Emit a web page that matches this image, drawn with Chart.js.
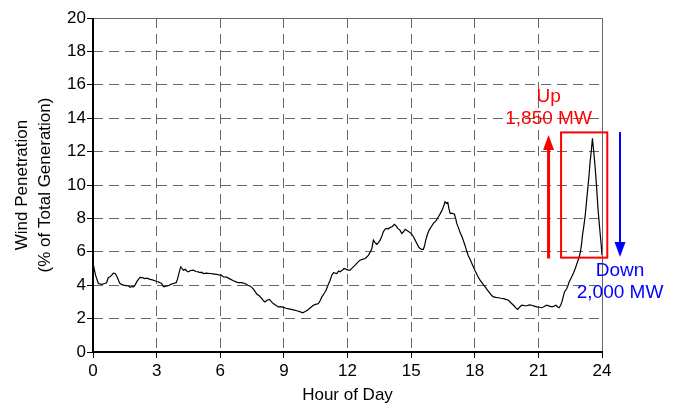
<!DOCTYPE html>
<html>
<head>
<meta charset="utf-8">
<script src="https://cdn.jsdelivr.net/npm/chart.js@4/dist/chart.umd.min.js"></script>
<style>
  html, body { margin: 0; padding: 0; background: #fff; }
  #wrap { width: 677px; height: 407px; }
</style>
</head>
<body>
<div id="wrap"><canvas id="chart-wind" width="677" height="407"></canvas></div>
<script>
// hour of day and wind share of total generation (%)
const hours = [
  0.00, 0.05, 0.12, 0.25, 0.41, 0.55, 0.64, 0.72, 0.80, 0.88, 0.96, 1.04, 1.12, 1.20, 1.27, 1.35,
  1.43, 1.55, 1.67, 1.75, 1.83, 1.92, 1.98, 2.06, 2.14, 2.22, 2.32, 2.45, 2.55, 2.69, 2.80, 2.92,
  3.00, 3.08, 3.16, 3.24, 3.30, 3.35, 3.45, 3.55, 3.67, 3.79, 3.92, 3.98, 4.03, 4.09, 4.14, 4.20,
  4.26, 4.35, 4.42, 4.50, 4.60, 4.73, 4.85, 4.97, 5.05, 5.12, 5.20, 5.35, 5.52, 5.65, 5.83, 5.95,
  6.05, 6.15, 6.30, 6.45, 6.62, 6.75, 6.85, 7.00, 7.17, 7.30, 7.40, 7.49, 7.60, 7.72, 7.85, 7.96,
  8.05, 8.11, 8.20, 8.32, 8.42, 8.50, 8.62, 8.74, 8.85, 8.98, 9.10, 9.29, 9.45, 9.61, 9.75, 9.89,
  10.00, 10.11, 10.25, 10.39, 10.50, 10.63, 10.72, 10.79, 10.90, 10.99, 11.08, 11.18, 11.26, 11.34, 11.42, 11.50,
  11.58, 11.65, 11.75, 11.84, 11.95, 12.04, 12.12, 12.24, 12.36, 12.47, 12.59, 12.70, 12.83, 12.92, 12.99, 13.08,
  13.15, 13.22, 13.30, 13.38, 13.46, 13.54, 13.62, 13.69, 13.77, 13.85, 13.93, 14.00, 14.10, 14.21, 14.29, 14.37,
  14.47, 14.56, 14.64, 14.72, 14.84, 14.95, 15.03, 15.11, 15.19, 15.27, 15.35, 15.42, 15.50, 15.58, 15.64, 15.69,
  15.77, 15.85, 15.95, 16.05, 16.17, 16.29, 16.38, 16.48, 16.55, 16.60, 16.67, 16.73, 16.78, 16.84, 16.95, 17.04,
  17.10, 17.15, 17.23, 17.31, 17.40, 17.47, 17.55, 17.63, 17.70, 17.78, 17.90, 18.02, 18.12, 18.25, 18.37, 18.49,
  18.60, 18.73, 18.80, 18.88, 19.00, 19.12, 19.24, 19.35, 19.47, 19.59, 19.70, 19.83, 19.93, 20.03, 20.12, 20.22,
  20.34, 20.46, 20.57, 20.69, 20.80, 20.93, 21.05, 21.16, 21.28, 21.40, 21.52, 21.64, 21.74, 21.83, 21.92, 21.98,
  22.05, 22.11, 22.17, 22.23, 22.34, 22.40, 22.45, 22.55, 22.66, 22.74, 22.82, 22.90, 22.97, 23.03, 23.08, 23.15,
  23.21, 23.27, 23.33, 23.39, 23.44, 23.50, 23.55, 23.61, 23.68, 23.75, 23.81, 23.87, 23.92, 23.97, 24.00
];
const penetration = [
  5.40, 5.00, 4.60, 4.10, 4.05, 4.10, 4.15, 4.45, 4.50, 4.60, 4.72, 4.70, 4.55, 4.30, 4.10, 4.05,
  4.00, 3.98, 3.95, 3.88, 3.92, 3.90, 4.00, 4.20, 4.35, 4.47, 4.45, 4.40, 4.42, 4.35, 4.32, 4.27,
  4.22, 4.20, 4.15, 4.10, 3.95, 3.90, 3.95, 3.97, 4.05, 4.10, 4.15, 4.35, 4.60, 4.90, 5.10, 5.00,
  4.90, 4.95, 4.85, 4.80, 4.88, 4.90, 4.82, 4.80, 4.75, 4.78, 4.70, 4.72, 4.70, 4.68, 4.65, 4.62,
  4.60, 4.50, 4.48, 4.38, 4.27, 4.20, 4.15, 4.15, 4.10, 4.00, 3.95, 3.87, 3.70, 3.47, 3.35, 3.20,
  3.05, 3.00, 3.10, 3.15, 3.00, 2.90, 2.80, 2.70, 2.72, 2.67, 2.62, 2.57, 2.52, 2.47, 2.42, 2.35,
  2.42, 2.50, 2.65, 2.80, 2.85, 2.90, 3.10, 3.30, 3.50, 3.70, 4.00, 4.30, 4.60, 4.75, 4.72, 4.70,
  4.85, 4.80, 4.90, 5.00, 4.95, 4.90, 4.90, 5.05, 5.20, 5.35, 5.50, 5.55, 5.60, 5.70, 5.80, 6.00,
  6.20, 6.70, 6.55, 6.45, 6.55, 6.70, 6.95, 7.20, 7.35, 7.40, 7.38, 7.45, 7.50, 7.65, 7.55, 7.40,
  7.30, 7.10, 7.20, 7.35, 7.25, 7.15, 7.05, 6.90, 6.70, 6.50, 6.30, 6.20, 6.15, 6.15, 6.40, 6.70,
  7.05, 7.30, 7.50, 7.70, 7.85, 8.10, 8.30, 8.55, 8.80, 9.00, 8.90, 8.95, 8.60, 8.30, 8.30, 8.25,
  8.00, 7.70, 7.45, 7.15, 6.90, 6.65, 6.35, 6.00, 5.75, 5.55, 5.20, 4.85, 4.60, 4.30, 4.10, 3.90,
  3.70, 3.50, 3.38, 3.30, 3.27, 3.25, 3.22, 3.20, 3.15, 3.10, 2.95, 2.80, 2.65, 2.55, 2.70, 2.80,
  2.78, 2.77, 2.82, 2.80, 2.75, 2.70, 2.68, 2.65, 2.72, 2.80, 2.75, 2.70, 2.75, 2.80, 2.70, 2.65,
  2.80, 3.00, 3.30, 3.60, 3.80, 4.00, 4.20, 4.45, 4.75, 5.00, 5.30, 5.60, 5.90, 6.40, 7.00, 7.60,
  8.20, 9.00, 9.80, 10.60, 11.40, 12.10, 12.80, 12.00, 11.00, 9.80, 8.60, 7.70, 7.00, 6.30, 5.80
];
const xTicks = [0, 3, 6, 9, 12, 15, 18, 21, 24];
const yTicks = [0, 2, 4, 6, 8, 10, 12, 14, 16, 18, 20];

// ramp callouts, in axis units
const rampBoxX = [22.07, 24.25];
const rampBoxY = [5.65, 13.15];
const upArrow = { x: 21.48, from: 5.6, to: 13.0 };
const downArrow = { x: 24.85, from: 13.17, to: 5.69 };
const upLabel = { x: 21.48, lines: ['Up', '1,850 MW'], y: [15.27, 13.95] };
const downLabel = { x: 24.85, lines: ['Down', '2,000 MW'], y: [4.85, 3.53] };

const FONT = 'Liberation Sans, Arial, sans-serif';
const GRID = '#666666';

const frameAndNotes = {
    id: 'frameAndNotes',
    beforeDatasetsDraw(chart) {
        const { ctx, chartArea: a } = chart;
        ctx.save();
        ctx.setLineDash([]);
        // solid grey top and right frame over the dashed grid
        ctx.strokeStyle = GRID;
        ctx.lineWidth = 1;
        ctx.beginPath();
        ctx.moveTo(a.left, a.top + 0.5);
        ctx.lineTo(a.right + 0.5, a.top + 0.5);
        ctx.lineTo(a.right + 0.5, a.bottom);
        ctx.stroke();
        // solid black axes on the left and bottom
        ctx.strokeStyle = '#000';
        ctx.lineWidth = 2;
        ctx.beginPath();
        ctx.moveTo(a.left, a.top);
        ctx.lineTo(a.left, a.bottom);
        ctx.lineTo(a.right + 1, a.bottom);
        ctx.stroke();
        ctx.restore();
    },
    afterDatasetsDraw(chart) {
        const { ctx } = chart;
        const xs = chart.scales.x, ys = chart.scales.y;
        const px = v => xs.getPixelForValue(v);
        const py = v => ys.getPixelForValue(v);
        ctx.save();

        // red box round the evening spike
        ctx.strokeStyle = '#ff0000';
        ctx.lineWidth = 2;
        ctx.strokeRect(px(rampBoxX[0]), py(rampBoxY[1]), px(rampBoxX[1]) - px(rampBoxX[0]), py(rampBoxY[0]) - py(rampBoxY[1]));

        const arrow = (a, color, width) => {
            const x = px(a.x), y0 = py(a.from), y1 = py(a.to);
            const dir = y1 < y0 ? -1 : 1;
            const headLen = 15, headHalf = 5.5;
            ctx.strokeStyle = color;
            ctx.fillStyle = color;
            ctx.lineWidth = width;
            ctx.beginPath();
            ctx.moveTo(x, y0);
            ctx.lineTo(x, y1 - dir * headLen);
            ctx.stroke();
            ctx.beginPath();
            ctx.moveTo(x, y1);
            ctx.lineTo(x - headHalf, y1 - dir * headLen);
            ctx.lineTo(x + headHalf, y1 - dir * headLen);
            ctx.closePath();
            ctx.fill();
        };
        arrow(upArrow, '#ff0000', 3);
        arrow(downArrow, '#0000ff', 2);

        ctx.font = '19px ' + FONT;
        ctx.textAlign = 'center';
        ctx.textBaseline = 'middle';
        ctx.fillStyle = '#ff0000';
        upLabel.lines.forEach((t, i) => ctx.fillText(t, px(upLabel.x), py(upLabel.y[i])));
        ctx.fillStyle = '#0000ff';
        downLabel.lines.forEach((t, i) => ctx.fillText(t, px(downLabel.x), py(downLabel.y[i])));
        ctx.restore();
    }
};

const ctx = document.getElementById('chart-wind').getContext('2d');
new Chart(ctx, {
    type: 'line',
    data: {
        datasets: [{
            data: hours.map((h, i) => ({ x: h, y: penetration[i] })),
            borderColor: '#000',
            borderWidth: 1.2,
            pointRadius: 0,
            tension: 0,
            fill: false
        }]
    },
    options: {
        responsive: false,
        animation: false,
        events: [],
        layout: { padding: { left: 0, right: 75, top: 18, bottom: 0 } },
        plugins: { legend: { display: false }, tooltip: { enabled: false } },
        scales: {
            x: {
                type: 'linear',
                min: 0, max: 24,
                afterBuildTicks: s => { s.ticks = xTicks.map(v => ({ value: v })); },
                afterFit: s => { s.height = 55; },
                ticks: { color: '#000', padding: 3, maxRotation: 0, font: { family: FONT, size: 17 } },
                grid: { color: GRID, lineWidth: 1, tickLength: 6, tickColor: '#000' },
                border: { display: false, dash: [10, 6] },
                title: {
                    display: true, text: 'Hour of Day', color: '#000',
                    font: { family: FONT, size: 17, lineHeight: 1.35 },
                    padding: { top: 0, bottom: 0.5 }
                }
            },
            y: {
                min: 0, max: 20,
                afterBuildTicks: s => { s.ticks = yTicks.map(v => ({ value: v })); },
                afterFit: s => { s.width = 93; },
                ticks: { color: '#000', padding: 1, font: { family: FONT, size: 17 } },
                grid: { color: GRID, lineWidth: 1, tickLength: 6, tickColor: '#000' },
                border: { display: false, dash: [10, 6] },
                title: {
                    display: true, text: ['Wind Penetration', '(% of Total Generation)'], color: '#000',
                    font: { family: FONT, size: 17, lineHeight: 1.35 },
                    padding: { top: 10.5, bottom: 0 }
                }
            }
        }
    },
    plugins: [frameAndNotes]
});
</script>
</body>
</html>
